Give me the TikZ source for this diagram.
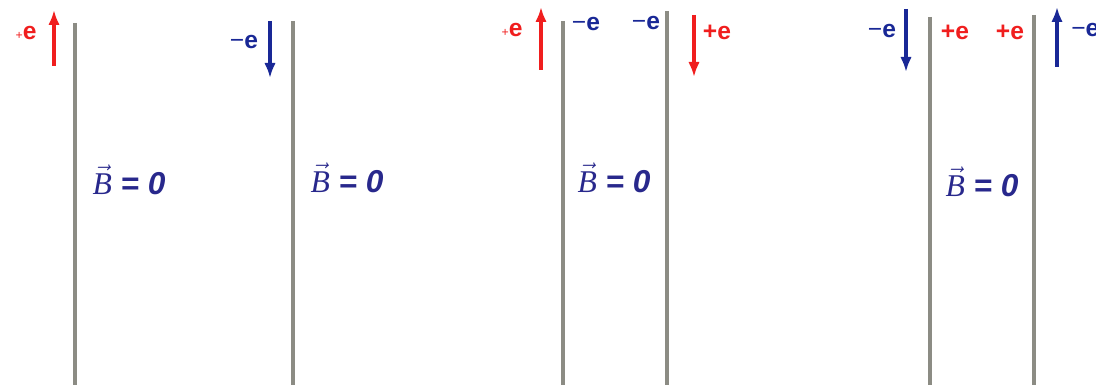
\documentclass[tikz,border=0pt]{standalone}
\usepackage{amsmath}
\usepackage{fontspec}
\setmainfont{Liberation Sans}
\newfontfamily\fieldserif{Liberation Serif}
\usetikzlibrary{arrows.meta}
\definecolor{wiregray}{RGB}{140,140,132}
\definecolor{chargered}{RGB}{240,30,30}
\definecolor{chargeblue}{RGB}{25,40,150}
\definecolor{fieldblue}{RGB}{40,40,140}
\newcommand{\fieldzero}{$\vec{\mbox{\fieldserif\itshape B}}$ \textbf{\textit{= 0}}}

\begin{document}
\begin{tikzpicture}[x=0.2mm,y=-0.2mm]
		\tikzset{wire/.style={line width=2.2pt,wiregray},
			current/.style={-{Latex[length=3mm,width=2.3mm]},line width=1.8pt,#1},
			charge/.style={font=\bfseries\fontsize{14}{14}\selectfont,inner sep=0pt,#1},
			field/.style={font=\fontsize{18}{18}\selectfont,fieldblue,inner sep=0pt}};
		\useasboundingbox (0,0) rectangle (1096,385);
		% wires
		\foreach \x/\t in {75/23,293/21,563/21,667/11,930/17,1034/15}
			\draw[wire] (\x,\t) -- (\x,385);
		% currents
		\foreach \x/\a/\b/\c in {54/66/10/chargered,270/21/78/chargeblue,541/70/7/chargered,694/15/77/chargered,906/9/72/chargeblue,1057/67/7/chargeblue}
			\draw[current=\c] (\x,\a) -- (\x,\b);
		% charges
		\node[charge=chargered] (q1) at (26,33) {{\mdseries\scriptsize +}e};
		\node[charge=chargeblue] (q2) at (244,42) {{\mdseries −}e};
		\node[charge=chargered] (q3) at (512,30) {{\mdseries\scriptsize +}e};
		\node[charge=chargeblue] (q4) at (586,24) {{\mdseries −}e};
		\node[charge=chargeblue] (q5) at (646,23) {{\mdseries −}e};
		\node[charge=chargered] (q6) at (717,32) {+e};
		\node[charge=chargeblue] (q7) at (882,31) {{\mdseries −}e};
		\node[charge=chargered] (q8) at (955,32) {+e};
		\node[charge=chargered] (q9) at (1010,32) {+e};
		\node[charge=chargeblue,anchor=west] (q10) at (1071,30) {{\mdseries −}e};
		% fields
		\node[field] (b1) at (129,180) {\fieldzero};
		\node[field] (b2) at (347,178) {\fieldzero};
		\node[field] (b3) at (614,178) {\fieldzero};
		\node[field] (b4) at (982,182) {\fieldzero};
	\end{tikzpicture}
\end{document}
